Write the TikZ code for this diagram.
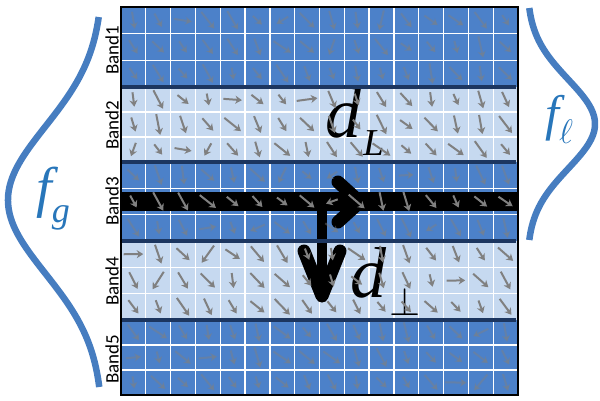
\RequirePackage{fix-cm}
\documentclass[tikz,border=0pt]{standalone}
\usepackage{fontspec}
\setsansfont{Carlito}
\newfontfamily\tnr{Liberation Serif}
\usetikzlibrary{arrows.meta}
\definecolor{darkcell}{RGB}{76,129,201}
\definecolor{lightcell}{RGB}{198,217,240}
\definecolor{sepnavy}{RGB}{28,54,96}
\definecolor{curveblue}{RGB}{70,125,192}
\definecolor{labelblue}{RGB}{40,118,186}
\definecolor{arrowgray}{RGB}{128,128,128}
\tikzset{
  cellgrid/.style={white, line width=1.3pt},
  sepline/.style={sepnavy, line width=3.8pt},
  fieldarrow/.style={arrowgray, line width=2pt, -{Stealth[length=6.5pt,width=8pt,inset=2pt]}},
  bigarrow/.style={black, line width=13pt, line cap=round, line join=round},
  bell/.style={curveblue, line width=6.5pt, line cap=butt},
  bandlabel/.style={rotate=90, font=\sffamily\fontsize{19}{19}\selectfont, inner sep=0pt},
}
\begin{document}
\begin{tikzpicture}[x=1pt,y=-1pt]
\useasboundingbox (0,0) rectangle (600,400);
% band fills
\fill[darkcell]  (121,7)   rectangle (518,87);
\fill[lightcell] (121,87)  rectangle (518,162);
\fill[darkcell]  (121,162) rectangle (518,241);
\fill[lightcell] (121,241) rectangle (518,320);
\fill[darkcell]  (121,320) rectangle (518,395);
% grid lines
\foreach \k in {1,...,15} \draw[cellgrid] ({121+24.81*\k},7) -- ({121+24.81*\k},395);
\foreach \ya/\yb in {7/87, 87/162, 162/241, 241/320, 320/395}{
  \draw[cellgrid] (121,{\ya+(\yb-\ya)/3}) -- (518,{\ya+(\yb-\ya)/3});
  \draw[cellgrid] (121,{\ya+2*(\yb-\ya)/3}) -- (518,{\ya+2*(\yb-\ya)/3});
}
% black band (d_L shaft)
\fill[black] (121,192) rectangle (518,211);
% big arrows
\draw[bigarrow] (338,182) -- (360,202) -- (338,222);
\draw[black, line width=10pt] (322,205) -- (322,290);
\draw[bigarrow] (304,251) -- (322,296) -- (340,251);
% labels
\node[anchor=base west, inner sep=0pt] (dL) at (325,137)
  {\tnr\itshape\fontsize{72}{72}\selectfont d\kern2pt\raisebox{-18pt}{\fontsize{38}{38}\selectfont L}};
\node[anchor=base west, inner sep=0pt] (dperp) at (350,297)
  {\tnr\itshape\fontsize{72}{72}\selectfont d\kern3pt\raisebox{-18pt}{\fontsize{40}{40}\selectfont$\perp$}};
% vector field
\pgfmathsetseed{12}
\foreach \ya/\yb/\opv in {7/87/0.45, 87/162/1, 162/241/0.45, 241/320/1, 320/395/0.45}{
  \foreach \ri in {0,1,2}{
    \foreach \ci in {0,...,15}{
      \pgfmathsetmacro\cx{121+24.81*(\ci+0.5)}
      \pgfmathsetmacro\cy{\ya+(\yb-\ya)*(\ri+0.5)/3}
      \pgfmathsetmacro\uu{rnd}
      \pgfmathsetmacro\ang{(\uu<0.06) ? (130+30*rand) : ((\uu<0.1) ? (10*rand) : (58+25*rand))}
      \pgfmathsetmacro\len{17+5*rand}
      \pgfmathsetmacro\op{((\ya==162) && (\ri==1)) ? 1 : \opv}
      \draw[fieldarrow, opacity=\op]
        ({\cx-0.5*\len*cos(\ang)},{\cy-0.5*\len*sin(\ang)}) --
        ({\cx+0.5*\len*cos(\ang)},{\cy+0.5*\len*sin(\ang)});
    }}}
% band separators and border
\foreach \ys in {87,162,241,320} \draw[sepline] (121,\ys) -- (516,\ys);
\draw[black, line width=2.5pt] (121,7) rectangle (518,395);
% band labels
\node[bandlabel] (b1) at (112,50) {Band1};
\node[bandlabel] (b2) at (112,125) {Band2};
\node[bandlabel] (b3) at (112,201) {Band3};
\node[bandlabel] (b4) at (112,281) {Band4};
\node[bandlabel] (b5) at (112,359) {Band5};
% distribution curves
\draw[bell] plot[domain=17:387, samples=120, smooth] ({103-95*exp(-((\x-200)/104)^2)}, \x);
\draw[bell] plot[domain=8:240, samples=100, smooth] ({527+68*exp(-((\x-124)/63)^2)}, \x);
\node[labelblue, anchor=base west, inner sep=0pt] (fg) at (36,206)
  {\tnr\itshape\fontsize{56}{56}\selectfont f\raisebox{-16pt}{\fontsize{36}{36}\selectfont g}};
\node[labelblue, anchor=base west, inner sep=0pt] (fl) at (545,130)
  {\tnr\itshape\fontsize{50}{50}\selectfont f\raisebox{-13pt}{\fontsize{34}{34}\selectfont$\ell$}};
\end{tikzpicture}
\end{document}
